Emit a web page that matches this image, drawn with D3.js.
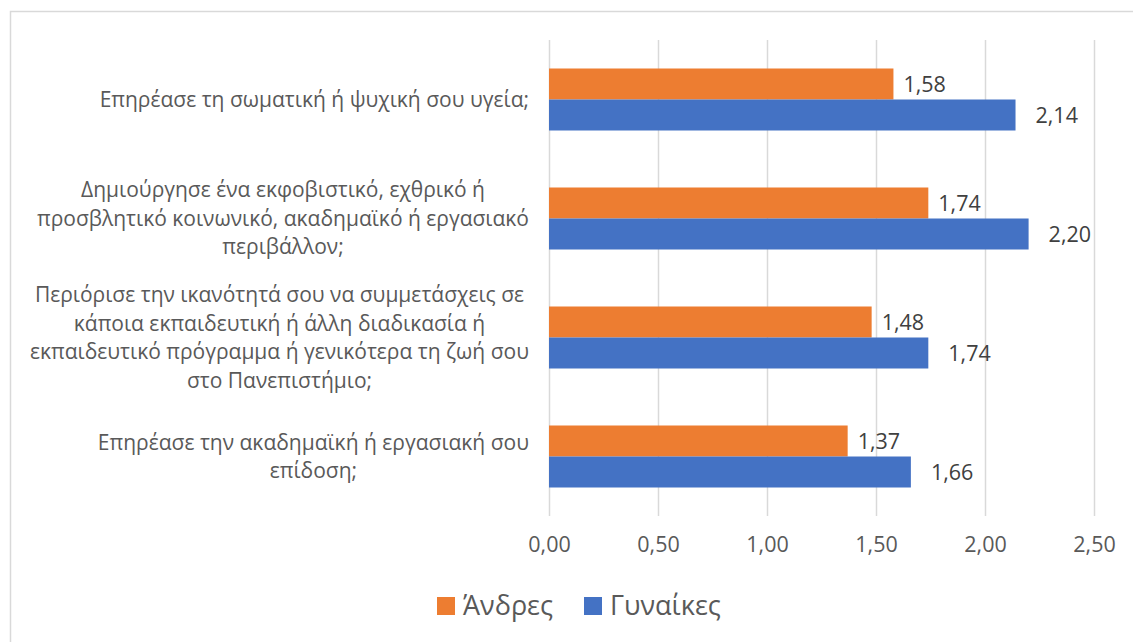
<!DOCTYPE html>
<html>
<head>
<meta charset="utf-8">
<script src="https://cdn.jsdelivr.net/npm/d3@7"></script>
<style>
  html, body { margin: 0; padding: 0; background: #fff; }
  svg { display: block; font-family: "Open Sans", sans-serif; }
</style>
</head>
<body>
<div id="chart"></div>
<script>
// Données
const categories = [
    "Επηρέασε τη σωματική ή ψυχική σου υγεία;",
    "Δημιούργησε ένα εκφοβιστικό, εχθρικό ή προσβλητικό κοινωνικό, ακαδημαϊκό ή εργασιακό περιβάλλον;",
    "Περιόρισε την ικανότητά σου να συμμετάσχεις σε κάποια εκπαιδευτική ή άλλη διαδικασία ή εκπαιδευτικό πρόγραμμα ή γενικότερα τη ζωή σου στο Πανεπιστήμιο;",
    "Επηρέασε την ακαδημαϊκή ή εργασιακή σου επίδοση;"
];
// Lignes des libellés (comme dans l'image)
const categoryLines = [
    ["Επηρέασε τη σωματική ή ψυχική σου υγεία;"],
    ["Δημιούργησε ένα εκφοβιστικό, εχθρικό ή", "προσβλητικό κοινωνικό, ακαδημαϊκό ή εργασιακό", "περιβάλλον;"],
    ["Περιόρισε την ικανότητά σου να συμμετάσχεις σε", "κάποια εκπαιδευτική ή άλλη διαδικασία ή", "εκπαιδευτικό πρόγραμμα ή γενικότερα τη ζωή σου", "στο Πανεπιστήμιο;"],
    ["Επηρέασε την ακαδημαϊκή ή εργασιακή σου", "επίδοση;"]
];
const seriesNames = ["Άνδρες", "Γυναίκες"];
const andres = [1.58, 1.74, 1.48, 1.37];
const gynaikes = [2.14, 2.20, 1.74, 1.66];
const xTicks = [0, 0.5, 1, 1.5, 2, 2.5];

const colors = { "Άνδρες": "#ED7D31", "Γυναίκες": "#4472C4" };

// Paramètres
const width = 1133;
const height = 642;
const margin = { top: 40, right: 39, bottom: 126, left: 549 };
const textColor = "#595959";

const rows = categories.map((c, i) => ({
    category: c,
    lines: categoryLines[i],
    values: [
        { serie: "Άνδρες", value: andres[i] },
        { serie: "Γυναίκες", value: gynaikes[i] }
    ]
}));

const locale = d3.formatLocale({ decimal: ",", thousands: ".", grouping: [3], currency: ["", "€"] });
const fmt = locale.format(".2f");

const svg = d3.select("#chart")
    .append("svg")
    .attr("width", width)
    .attr("height", height);

// Cadre
svg.append("rect")
    .attr("x", 10.5)
    .attr("y", 11.5)
    .attr("width", width + 10)
    .attr("height", height + 10)
    .attr("fill", "#fff")
    .attr("stroke", "#d9d9d9")
    .attr("stroke-width", 1.5);

// Echelles
const x = d3.scaleLinear()
    .domain([0, 2.5])
    .range([margin.left, width - margin.right]);

const y0 = d3.scaleBand()
    .domain(categories)
    .range([margin.top, height - margin.bottom])
    .paddingInner(0.479)
    .paddingOuter(0.2395);

const y1 = d3.scaleBand()
    .domain(seriesNames)
    .range([0, y0.bandwidth()]);

// Grille + axe horizontal
svg.append("g")
    .attr("transform", `translate(0, ${height - margin.bottom})`)
    .call(d3.axisBottom(x)
        .tickValues(xTicks)
        .tickSize(-(height - margin.bottom - margin.top))
        .tickPadding(21)
        .tickFormat(fmt))
    .call(g => g.select(".domain").remove())
    .call(g => g.selectAll(".tick line").attr("stroke", "#d9d9d9").attr("stroke-width", 1.5))
    .call(g => g.selectAll(".tick text")
        .attr("fill", textColor)
        .style("font-size", "21.5px")
        .style("font-family", "Open Sans"));

// Barres
const groups = svg.append("g")
    .selectAll("g")
    .data(rows)
    .join("g")
    .attr("transform", d => `translate(0, ${y0(d.category)})`);

groups.selectAll("rect")
    .data(d => d.values)
    .join("rect")
    .attr("x", x(0))
    .attr("y", d => y1(d.serie))
    .attr("width", d => x(d.value) - x(0))
    .attr("height", y1.bandwidth())
    .attr("fill", d => colors[d.serie]);

// Etiquettes de valeurs
groups.selectAll("text")
    .data(d => d.values)
    .join("text")
    .attr("x", d => x(d.value) + (d.serie === "Άνδρες" ? 10 : 20))
    .attr("y", d => y1(d.serie) + y1.bandwidth() / 2)
    .attr("dy", "0.35em")
    .attr("fill", "#404040")
    .style("font-size", "21.5px")
    .text(d => fmt(d.value));

// Libellés des catégories (lignes centrées dans un bloc aligné à droite)
const labelRight = margin.left - 20;
const lineHeight = 28.5;
const labels = svg.append("g")
    .selectAll("g")
    .data(rows)
    .join("g");

labels.each(function(d) {
    const g = d3.select(this);
    const cy = y0(d.category) + y0.bandwidth() / 2;
    const n = d.lines.length;
    const texts = g.selectAll("text")
        .data(d.lines)
        .join("text")
        .attr("y", (l, i) => cy + (i - (n - 1) / 2) * lineHeight)
        .attr("dy", "0.35em")
        .attr("text-anchor", "middle")
        .attr("fill", textColor)
        .style("font-size", "21px")
        .text(l => l);
    let maxW = 0;
    texts.each(function() { maxW = Math.max(maxW, this.getComputedTextLength()); });
    texts.attr("x", labelRight - maxW / 2);
});

// Légende
const legend = svg.append("g")
    .attr("transform", `translate(437, 606)`);

const legendItems = legend.selectAll("g")
    .data(seriesNames)
    .join("g")
    .attr("transform", (d, i) => `translate(${i * 147}, 0)`);

legendItems.append("rect")
    .attr("x", 0)
    .attr("y", -9)
    .attr("width", 18)
    .attr("height", 18)
    .attr("fill", d => colors[d]);

legendItems.append("text")
    .attr("x", 26)
    .attr("dy", "0.35em")
    .attr("fill", textColor)
    .style("font-size", "27px")
    .text(d => d);
</script>
</body>
</html>
